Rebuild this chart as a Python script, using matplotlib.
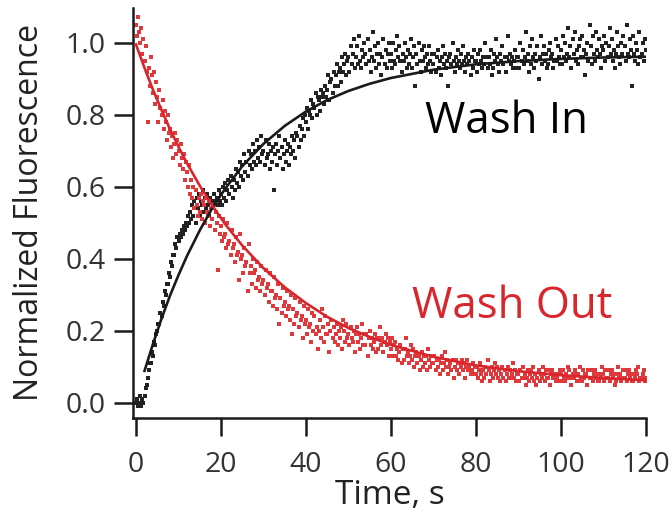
import numpy as np
import matplotlib

matplotlib.use("Agg")
from matplotlib import pyplot as plt

# Normalized fluorescence sampled every 0.25 s, 0-120 s (one row = 10 s)
wash_in = [
    0.00, 0.01, -0.01, 0.00, 0.02, -0.01, 0.01, 0.00, 0.02, 0.04, 0.05, 0.07,
    0.09, 0.11, 0.11, 0.14, 0.13, 0.17, 0.16, 0.19, 0.20, 0.22, 0.22, 0.25,
    0.24, 0.28, 0.27, 0.31, 0.30, 0.33, 0.33, 0.36, 0.35, 0.39, 0.38, 0.41,
    0.41, 0.44, 0.43, 0.46,
    0.45, 0.47, 0.46, 0.48, 0.47, 0.49, 0.48, 0.50, 0.49, 0.52, 0.50, 0.53,
    0.51, 0.55, 0.52, 0.56, 0.50, 0.57, 0.54, 0.58, 0.52, 0.56, 0.55, 0.59,
    0.53, 0.57, 0.54, 0.58, 0.55, 0.52, 0.57, 0.56, 0.54, 0.58, 0.56, 0.53,
    0.57, 0.55, 0.59, 0.56,
    0.58, 0.55, 0.60, 0.57, 0.61, 0.56, 0.59, 0.62, 0.58, 0.63, 0.60, 0.57,
    0.62, 0.59, 0.65, 0.61, 0.64, 0.60, 0.67, 0.63, 0.66, 0.62, 0.69, 0.64,
    0.67, 0.63, 0.70, 0.66, 0.69, 0.65, 0.72, 0.67, 0.70, 0.66, 0.73, 0.68,
    0.71, 0.67, 0.74, 0.69,
    0.70, 0.66, 0.73, 0.68, 0.69, 0.72, 0.65, 0.70, 0.67, 0.71, 0.59, 0.69,
    0.72, 0.66, 0.70, 0.74, 0.68, 0.71, 0.65, 0.69, 0.73, 0.67, 0.70, 0.72,
    0.66, 0.71, 0.69, 0.74, 0.70, 0.73, 0.68, 0.75, 0.74, 0.71, 0.77, 0.73,
    0.76, 0.79, 0.74, 0.80,
    0.78, 0.82, 0.76, 0.81, 0.80, 0.84, 0.79, 0.83, 0.82, 0.86, 0.80, 0.85,
    0.84, 0.81, 0.87, 0.85, 0.86, 0.83, 0.88, 0.85, 0.87, 0.91, 0.84, 0.89,
    0.90, 0.86, 0.92, 0.88, 0.91, 0.94, 0.88, 0.92, 0.93, 0.89, 0.96, 0.92,
    0.94, 0.97, 0.91, 0.95,
    0.96, 0.92, 0.99, 0.94, 0.97, 1.01, 0.93, 0.96, 0.99, 0.94, 1.02, 0.95,
    0.93, 0.98, 0.96, 1.00, 0.97, 0.94, 1.01, 0.95, 0.98, 0.92, 0.96, 1.03,
    0.95, 0.99, 0.93, 0.97, 1.00, 0.94, 0.97, 0.91, 0.96, 1.01, 0.94, 0.98,
    0.93, 0.97, 1.00, 0.95,
    0.97, 0.93, 1.00, 0.95, 0.94, 0.98, 1.02, 0.96, 0.99, 0.95, 0.92, 0.97,
    0.95, 1.00, 0.96, 0.93, 0.98, 0.94, 0.97, 1.01, 0.93, 0.96, 0.99, 0.88,
    0.97, 0.94, 1.00, 0.95, 0.92, 0.98, 0.95, 0.99, 0.96, 0.93, 0.97, 0.94,
    0.99, 0.95, 0.92, 0.97,
    0.94, 0.97, 0.92, 0.96, 0.98, 0.93, 0.95, 0.91, 0.96, 0.99, 0.94, 0.97,
    0.93, 0.95, 0.88, 0.96, 0.97, 0.94, 1.00, 0.95, 0.92, 0.96, 0.94, 0.98,
    0.95, 0.93, 0.97, 0.94, 0.99, 0.95, 0.92, 0.96, 0.94, 0.97, 0.95, 0.91,
    0.96, 0.93, 0.98, 0.95,
    0.95, 0.92, 0.97, 0.94, 0.98, 0.95, 0.93, 0.96, 0.94, 1.00, 0.96, 0.93,
    0.96, 0.94, 0.98, 0.91, 0.93, 0.97, 0.95, 1.01, 0.96, 0.94, 0.92, 0.97,
    0.95, 0.99, 0.94, 0.96, 0.92, 0.96, 1.02, 0.95, 0.97, 0.94, 0.96, 0.93,
    0.95, 0.98, 0.93, 0.96,
    0.96, 0.93, 1.00, 0.95, 0.98, 0.94, 0.96, 1.03, 0.95, 0.97, 0.92, 0.99,
    0.94, 1.01, 0.96, 0.93, 0.97, 0.95, 0.99, 0.90, 0.96, 1.02, 0.94, 0.97,
    0.99, 0.95, 0.97, 0.93, 0.94, 0.98, 1.00, 0.96, 0.97, 0.93, 0.95, 1.01,
    0.95, 0.99, 0.96, 0.94,
    0.98, 0.94, 1.02, 0.96, 1.00, 0.95, 0.97, 1.04, 0.96, 0.99, 0.93, 1.01,
    0.97, 1.03, 0.95, 0.98, 0.94, 0.99, 1.01, 0.96, 1.02, 0.96, 0.98, 0.91,
    0.97, 1.00, 0.95, 1.05, 0.99, 0.94, 1.02, 0.97, 0.95, 1.03, 0.98, 0.96,
    1.01, 0.97, 0.93, 0.99,
    0.98, 1.02, 0.95, 1.00, 0.96, 0.99, 1.04, 0.97, 1.01, 0.95, 0.98, 0.93,
    0.97, 1.03, 0.99, 0.96, 0.94, 1.00, 0.97, 1.02, 0.99, 0.95, 1.05, 0.97,
    0.96, 1.01, 0.98, 0.88, 1.02, 0.97, 0.95, 1.00, 0.98, 0.94, 1.03, 0.96,
    0.97, 1.00, 0.95, 1.01,
    0.98,
]

wash_out = [
    1.05, 1.02, 1.07, 1.03, 1.00, 1.04, 0.97, 1.01, 0.95, 0.99, 0.92, 0.78,
    0.93, 0.88, 0.96, 0.91, 0.86, 0.92, 0.83, 0.89, 0.85, 0.78, 0.87, 0.82,
    0.80, 0.84, 0.76, 0.81, 0.78, 0.73, 0.80, 0.75, 0.76, 0.71, 0.74, 0.68,
    0.72, 0.75, 0.69, 0.73,
    0.70, 0.66, 0.72, 0.68, 0.65, 0.69, 0.62, 0.67, 0.64, 0.60, 0.66, 0.58,
    0.62, 0.57, 0.60, 0.54, 0.59, 0.55, 0.52, 0.57, 0.53, 0.58, 0.51, 0.56,
    0.55, 0.50, 0.57, 0.53, 0.52, 0.56, 0.49, 0.54, 0.51, 0.55, 0.48, 0.53,
    0.50, 0.37, 0.52, 0.47,
    0.49, 0.45, 0.51, 0.46, 0.47, 0.43, 0.50, 0.44, 0.45, 0.41, 0.48, 0.43,
    0.44, 0.39, 0.46, 0.41, 0.42, 0.34, 0.47, 0.40, 0.41, 0.36, 0.43, 0.38,
    0.39, 0.31, 0.44, 0.36, 0.38, 0.33, 0.40, 0.36, 0.37, 0.32, 0.39, 0.34,
    0.35, 0.31, 0.38, 0.33,
    0.34, 0.30, 0.37, 0.32, 0.33, 0.28, 0.36, 0.31, 0.31, 0.27, 0.35, 0.29,
    0.30, 0.26, 0.33, 0.22, 0.29, 0.25, 0.32, 0.27, 0.28, 0.24, 0.31, 0.26,
    0.27, 0.23, 0.30, 0.19, 0.26, 0.22, 0.29, 0.24, 0.25, 0.21, 0.28, 0.23,
    0.24, 0.18, 0.27, 0.22,
    0.23, 0.19, 0.26, 0.21, 0.22, 0.17, 0.25, 0.20, 0.24, 0.19, 0.21, 0.15,
    0.20, 0.23, 0.18, 0.26, 0.21, 0.17, 0.24, 0.19, 0.19, 0.22, 0.14, 0.20,
    0.23, 0.18, 0.21, 0.17, 0.19, 0.22, 0.16, 0.20, 0.18, 0.21, 0.15, 0.23,
    0.20, 0.17, 0.22, 0.18,
    0.19, 0.16, 0.21, 0.18, 0.17, 0.20, 0.14, 0.19, 0.21, 0.17, 0.19, 0.15,
    0.18, 0.22, 0.16, 0.19, 0.16, 0.19, 0.13, 0.18, 0.20, 0.16, 0.18, 0.15,
    0.17, 0.19, 0.14, 0.18, 0.15, 0.18, 0.21, 0.16, 0.18, 0.14, 0.17, 0.19,
    0.16, 0.18, 0.13, 0.17,
    0.15, 0.18, 0.13, 0.16, 0.17, 0.13, 0.15, 0.12, 0.14, 0.16, 0.11, 0.15,
    0.12, 0.15, 0.18, 0.13, 0.14, 0.11, 0.13, 0.16, 0.12, 0.15, 0.10, 0.13,
    0.14, 0.11, 0.13, 0.09, 0.12, 0.14, 0.10, 0.13, 0.11, 0.13, 0.09, 0.15,
    0.12, 0.10, 0.13, 0.11,
    0.11, 0.13, 0.09, 0.12, 0.10, 0.12, 0.08, 0.11, 0.13, 0.09, 0.11, 0.14,
    0.10, 0.12, 0.08, 0.10, 0.11, 0.09, 0.12, 0.07, 0.10, 0.12, 0.09, 0.11,
    0.08, 0.11, 0.10, 0.12, 0.09, 0.11, 0.07, 0.10, 0.12, 0.09, 0.10, 0.08,
    0.09, 0.11, 0.08, 0.10,
    0.08, 0.10, 0.07, 0.09, 0.11, 0.08, 0.06, 0.09, 0.07, 0.10, 0.08, 0.12,
    0.09, 0.06, 0.08, 0.10, 0.07, 0.09, 0.11, 0.08, 0.10, 0.07, 0.09, 0.06,
    0.08, 0.10, 0.07, 0.09, 0.06, 0.08, 0.10, 0.07, 0.09, 0.07, 0.08, 0.11,
    0.07, 0.09, 0.06, 0.08,
    0.08, 0.06, 0.09, 0.07, 0.10, 0.07, 0.08, 0.05, 0.07, 0.09, 0.06, 0.08,
    0.09, 0.07, 0.10, 0.06, 0.08, 0.05, 0.07, 0.09, 0.06, 0.08, 0.07, 0.10,
    0.08, 0.06, 0.09, 0.07, 0.07, 0.09, 0.05, 0.08, 0.09, 0.07, 0.08, 0.06,
    0.07, 0.08, 0.06, 0.09,
    0.08, 0.06, 0.09, 0.07, 0.06, 0.08, 0.07, 0.10, 0.09, 0.07, 0.05, 0.08,
    0.07, 0.09, 0.08, 0.06, 0.08, 0.06, 0.10, 0.07, 0.06, 0.09, 0.07, 0.08,
    0.08, 0.05, 0.09, 0.07, 0.07, 0.09, 0.06, 0.08, 0.09, 0.07, 0.08, 0.06,
    0.06, 0.08, 0.07, 0.10,
    0.08, 0.06, 0.09, 0.07, 0.07, 0.09, 0.06, 0.08, 0.09, 0.07, 0.08, 0.05,
    0.06, 0.08, 0.10, 0.07, 0.08, 0.06, 0.07, 0.09, 0.07, 0.09, 0.06, 0.08,
    0.09, 0.07, 0.08, 0.06, 0.06, 0.08, 0.07, 0.09, 0.08, 0.10, 0.06, 0.07,
    0.07, 0.08, 0.09, 0.06,
    0.07,
]

# exponential fits
fit_t = [0, 2, 4, 6, 8, 10, 12, 15, 18, 21, 25, 30, 35, 40, 45, 50, 55, 60,
         70, 80, 90, 100, 110, 120]
fit_in = [None, 0.089, 0.164, 0.234, 0.298, 0.355, 0.408, 0.479, 0.542,
          0.595, 0.657, 0.719, 0.769, 0.809, 0.841, 0.866, 0.886, 0.902,
          0.925, 0.940, 0.949, 0.955, 0.959, 0.961]
fit_out = [0.995, 0.930, 0.869, 0.813, 0.760, 0.711, 0.665, 0.603, 0.547,
           0.496, 0.437, 0.374, 0.321, 0.277, 0.239, 0.208, 0.183, 0.161,
           0.128, 0.104, 0.088, 0.077, 0.069, 0.063]

x_ticks = [0, 20, 40, 60, 80, 100, 120]
y_ticks = [0.0, 0.2, 0.4, 0.6, 0.8, 1.0]

RED = "#d8262c"
DOT_RED = "#e0393c"
BLACK = "#1a1a1a"
FONT = "Open Sans"

plt.rcParams["font.family"] = FONT

fig = plt.figure(figsize=(6.72, 5.18), dpi=100)
ax = fig.add_axes([0.198, 0.193, 0.763, 0.792])

t = np.linspace(0, 120, len(wash_in))
ax.plot(t, wash_in, "s", ms=2.5, mew=0, color="#222222", zorder=2)
ax.plot(t, wash_out, "s", ms=2.5, mew=0, color=DOT_RED, zorder=2)

ft = np.array(fit_t, dtype=float)
fin = np.array([np.nan if v is None else v for v in fit_in])
ax.plot(ft[1:], fin[1:], color=BLACK, lw=1.9, zorder=3)
ax.plot(ft, fit_out, color=RED, lw=1.9, zorder=3)

ax.text(68.0, 0.75, "Wash In", color="black", fontsize=31.5, va="baseline")
ax.text(65.0, 0.235, "Wash Out", color=RED, fontsize=31.5, va="baseline")

ax.set_xlim(-0.7, 120)
ax.set_ylim(-0.042, 1.097)
ax.set_xticks(x_ticks)
ax.set_yticks(y_ticks)
ax.set_yticklabels([f"{v:.1f}" for v in y_ticks])

for side in ("top", "right"):
    ax.spines[side].set_visible(False)
for side in ("left", "bottom"):
    ax.spines[side].set_linewidth(1.8)
    ax.spines[side].set_color(BLACK)

ax.tick_params(axis="y", direction="out", length=14, width=1.8, pad=6,
               labelsize=20.5, colors=BLACK, labelcolor="#333333")
ax.tick_params(axis="x", direction="out", length=13, width=1.8, pad=11,
               labelsize=20.5, colors=BLACK, labelcolor="#333333")

ax.set_xlabel("Time, s", fontsize=24, color="#222222", labelpad=0)
ax.set_ylabel("Normalized Fluorescence", fontsize=23, color="#222222",
              labelpad=14)

fig.savefig("out.png", dpi=100, facecolor="white")
